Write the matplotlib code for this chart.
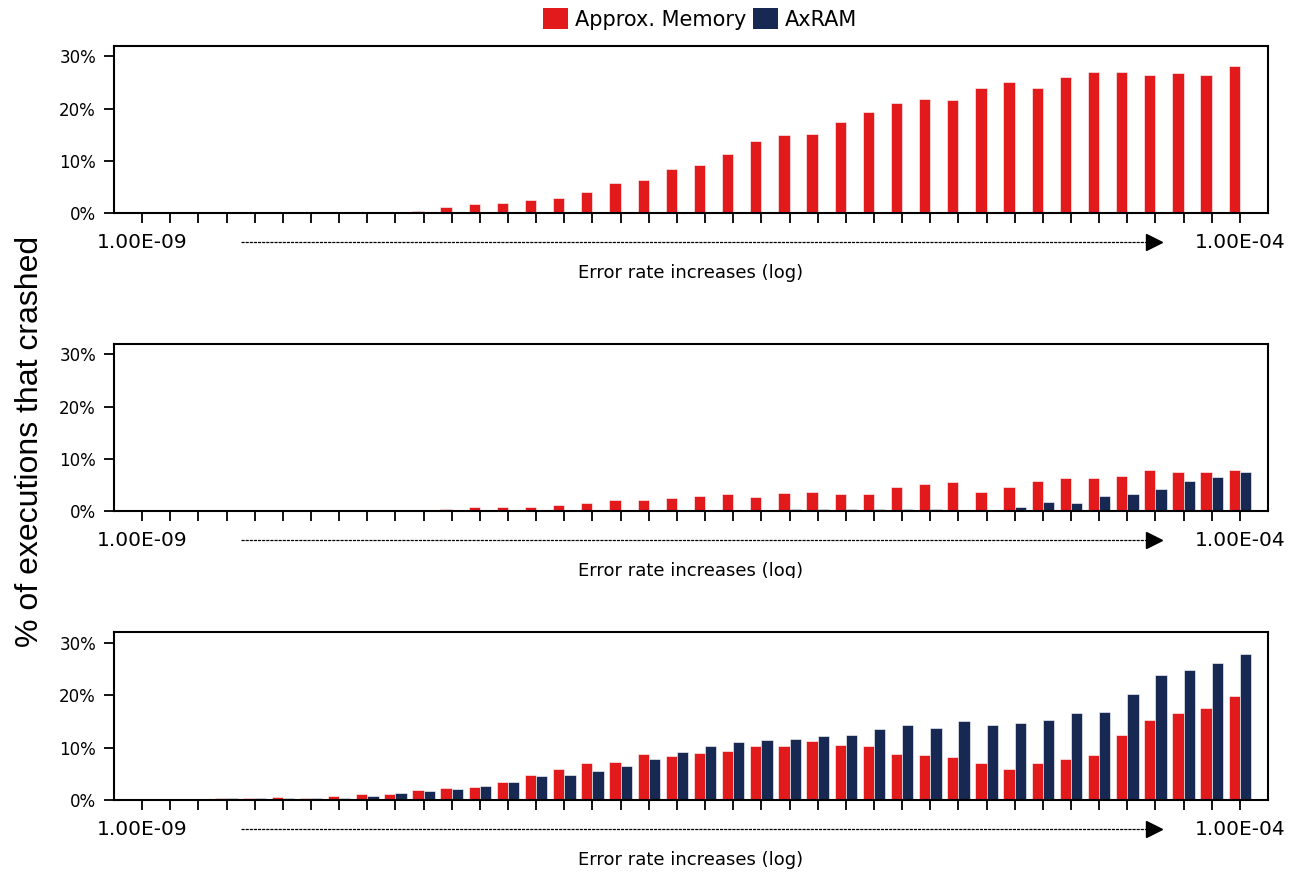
import numpy as np
import matplotlib
matplotlib.use('Agg')
import matplotlib.pyplot as plt
import matplotlib.transforms as mtransforms
from matplotlib.patches import Patch, Rectangle
from matplotlib.ticker import PercentFormatter

# ============================================================
# Data: % of executions that crashed, 40 error-rate steps (1e-9 .. 1e-4, log)
# ============================================================

top_approx = [0, 0, 0, 0, 0, 0, 0, 0, 0, 0.1,
              0.45, 1.15, 1.7, 1.85, 2.4, 2.8, 4.0, 5.8, 6.3, 8.4,
              9.2, 11.4, 13.75, 15.0, 15.2, 17.35, 19.35, 21.1, 21.85, 21.65,
              24.0, 25.1, 23.9, 26.0, 27.1, 27.1, 26.35, 26.9, 26.5, 28.15]

mid_approx = [0, 0, 0, 0, 0, 0, 0.2, 0.2, 0.2, 0.2,
              0.2, 0.35, 0.7, 0.85, 0.85, 1.1, 1.5, 2.05, 2.05, 2.45,
              2.9, 3.2, 2.65, 3.45, 3.6, 3.3, 3.3, 4.6, 5.1, 5.5,
              3.6, 4.6, 5.8, 6.25, 6.25, 6.65, 7.8, 7.5, 7.5, 7.95]
mid_axram = [0, 0, 0, 0, 0, 0, 0, 0, 0, 0,
             0, 0, 0, 0, 0, 0, 0, 0, 0, 0,
             0, 0, 0.25, 0.3, 0.3, 0.3, 0.3, 0.3, 0.3, 0.25,
             0, 0.7, 1.65, 1.5, 2.8, 3.35, 4.15, 5.7, 6.55, 7.4]

bot_approx = [0.25, 0.25, 0.25, 0.4, 0.4, 0.6, 0.4, 0.75, 1.15, 1.15,
              1.9, 2.25, 2.5, 3.45, 4.85, 5.9, 7.0, 7.3, 8.8, 8.4,
              8.95, 9.35, 10.3, 10.3, 11.15, 10.5, 10.3, 8.8, 8.65, 8.25,
              7.0, 6.0, 7.1, 7.8, 8.65, 12.3, 15.25, 16.65, 17.6, 19.85]
bot_axram = [0.25, 0.25, 0.25, 0.4, 0.4, 0.4, 0.4, 0.4, 0.85, 1.4,
             1.65, 2.05, 2.7, 3.45, 4.5, 4.85, 5.45, 6.55, 7.8, 9.2,
             10.2, 11.0, 11.5, 11.6, 12.1, 12.45, 13.45, 14.25, 13.8, 15.1,
             14.35, 14.7, 15.2, 16.5, 16.85, 20.25, 23.9, 24.75, 26.15, 27.8]

series_labels = ['Approx. Memory', 'AxRAM']
range_labels = ['1.00E-09', '1.00E-04']
xlabel = 'Error rate increases (log)'
ylabel = '% of executions that crashed'

red = '#e31a1c'
navy = '#172952'

# ============================================================
# Figure
# ============================================================

W, H = 1302, 872
fig = plt.figure(figsize=(W / 100, H / 100), dpi=100)

# panel boxes in pixels: (top, bottom)
boxes = [(46, 213), (344, 511), (632, 800)]
left_px, right_px = 114, 1268

panels = [
    (top_approx, None),
    (mid_approx, mid_axram),
    (bot_approx, bot_axram),
]

x = np.arange(len(top_approx))
w = 0.4

for (top_px, bot_px), (approx, axram) in zip(boxes, panels):
    ax = fig.add_axes([left_px / W, 1 - bot_px / H,
                       (right_px - left_px) / W, (bot_px - top_px) / H])
    ax.bar(x - w / 2, approx, width=w, color=red, edgecolor='white', linewidth=0.4)
    if axram is not None:
        ax.bar(x + w / 2, axram, width=w, color=navy, edgecolor='white', linewidth=0.4)

    ax.set_xlim(-1, len(x))
    ax.set_ylim(0, 32)
    ax.set_yticks([0, 10, 20, 30])
    ax.yaxis.set_major_formatter(PercentFormatter(decimals=0))
    ax.set_xticks(x)
    ax.set_xticklabels([])
    ax.tick_params(axis='both', direction='out', length=7, width=1.3, color='black')
    ax.tick_params(axis='y', labelsize=12, pad=6)
    for sp in ax.spines.values():
        sp.set_linewidth(1.5)

    # "axis" under the panel: range labels + dashed arrow + caption
    below = mtransforms.offset_copy(ax.get_xaxis_transform(), fig=fig, y=-29, units='dots')
    ax.text(0, 0, range_labels[0], transform=below, ha='center', va='center', fontsize=14.5)
    ax.text(len(x) - 1, 0, range_labels[1], transform=below, ha='center', va='center', fontsize=14.5)
    ax.plot([3.5, 35.9], [0, 0], transform=below, color='black', lw=0.9,
            linestyle=(0, (2.5, 0.8)), clip_on=False)
    ax.plot([35.95], [0], transform=below, marker='>', markersize=11, color='black',
            clip_on=False)
    caption = mtransforms.offset_copy(ax.get_xaxis_transform(), fig=fig, y=-60, units='dots')
    ax.text(19.5, 0, xlabel, transform=caption, ha='center', va='center', fontsize=13)

# middle caption is cut off in the original
fig.add_artist(Rectangle((0.35, 1 - 620 / H), 0.35, (620 - 578) / H,
                         transform=fig.transFigure, facecolor='white',
                         edgecolor='none', zorder=10))

fig.text(30 / W, 1 - 441 / H, ylabel, rotation=90, ha='center', va='center',
         fontsize=23, family='Liberation Sans')

handles = [Patch(facecolor=red), Patch(facecolor=navy)]
fig.legend(handles, series_labels, loc='center', bbox_to_anchor=(700 / W, 1 - 19 / H),
           ncol=2, frameon=False, fontsize=15, handlelength=1.2, handleheight=1.2,
           handletextpad=0.3, columnspacing=0.35, borderaxespad=0)

plt.savefig('out.png', dpi=100)
